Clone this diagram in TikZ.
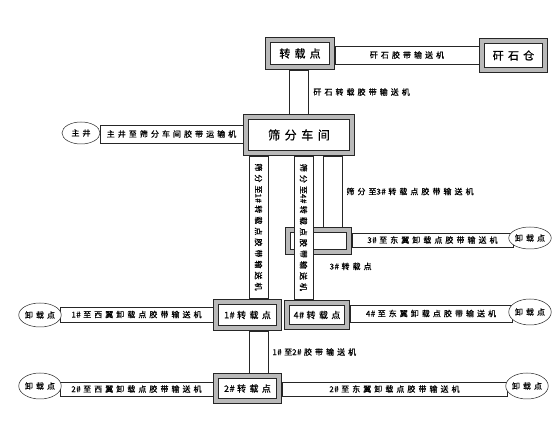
\documentclass[tikz,border=0pt]{standalone}
\usepackage{fontspec}
\setmainfont{Noto Sans CJK SC}[LetterSpace=38, FakeBold=0.6]
\usetikzlibrary{positioning,shapes.geometric}

% number with tight #
\newcommand{\hao}[1]{{\addfontfeature{LetterSpace=5}#1\#}\hspace{2.5pt}}

\begin{document}
\begin{tikzpicture}[
    x=1pt, y=-1pt,
    station/.style={rectangle, draw=black!85, line width=0.7pt, double=gray!55,
                    double distance=4.2pt, fill=white, inner sep=0pt,
                    font=\fontsize{9}{10}\selectfont},
    belt/.style={rectangle, draw=black!85, line width=0.5pt, fill=white,
                 inner sep=0pt, font=\fontsize{8}{9}\selectfont},
    unload/.style={ellipse, draw=black!85, line width=0.5pt, fill=white,
                   inner sep=0pt, font=\fontsize{8}{9}\selectfont},
    lbl/.style={inner sep=0pt, font=\fontsize{8}{9}\selectfont},
]
\useasboundingbox (0,0) rectangle (552,427);

% transfer points and plant
\node[station, minimum width=64.4, minimum height=27.4, font=\fontsize{11}{12}\selectfont] (zzd) at (300,53.5) {转载点};
\node[station, minimum width=63.4, minimum height=29.4, font=\fontsize{11}{12}\selectfont] (gsc) at (513.5,55.5) {矸石仓};
\node[station, minimum width=106.4, minimum height=36.4, font=\fontsize{12}{13}\selectfont] (sf) at (299,135) {筛分车间};
\node[station, minimum width=61.4, minimum height=22.4] (p3) at (318.5,241) {};
\node[station, minimum width=63.4, minimum height=26.4] (p1) at (247.5,315) {\hao{1}转载点};
\node[station, minimum width=60.4, minimum height=24.4] (p4) at (317,315) {\hao{4}转载点};
\node[station, minimum width=63.4, minimum height=25.4] (p2) at (247.5,388.5) {\hao{2}转载点};

% belts
\node[belt, minimum width=144, minimum height=18] (bgs) at (407,55) {矸石胶带输送机};
\node[belt, minimum width=19, minimum height=44] (bzz) at (298.5,92) {};
\node[belt, minimum width=143, minimum height=18] (bzj) at (171.5,134) {主井至筛分车间胶带运输机};
\node[belt, rotate=-90, minimum width=142, minimum height=19] (b1) at (258.5,227) {筛分至\hao{1}转载点胶带输送机};
\node[belt, minimum width=19, minimum height=71] (b3) at (332.5,191.5) {};
\node[belt, rotate=-90, minimum width=143, minimum height=19] (b4) at (303.5,227.5) {筛分至\hao{4}转载点胶带输送机};
\node[belt, minimum width=161, minimum height=14] (b3e) at (432.5,240) {\hao{3}至东翼卸载点胶带输送机};
\node[belt, minimum width=153, minimum height=15] (b1w) at (136.5,314.5) {\hao{1}至西翼卸载点胶带输送机};
\node[belt, minimum width=162, minimum height=17] (b4e) at (431,313.5) {\hao{4}至东翼卸载点胶带输送机};
\node[belt, minimum width=19, minimum height=42] (b12) at (258.5,352) {};
\node[belt, minimum width=153, minimum height=14] (b2w) at (136.5,389) {\hao{2}至西翼卸载点胶带输送机};
\node[belt, minimum width=225, minimum height=14] (b2e) at (394.5,389) {\hao{2}至东翼卸载点胶带输送机};

% ends
\node[unload, minimum width=38, minimum height=22] (zj) at (81,133) {主井};
\node[unload, minimum width=34, minimum height=22] (e3) at (530,238) {卸载点};
\node[unload, minimum width=40, minimum height=24] (w1) at (40,315) {卸载点};
\node[unload, minimum width=36, minimum height=26] (e4) at (530,312) {卸载点};
\node[unload, minimum width=40, minimum height=26] (w2) at (40,386) {卸载点};
\node[unload, minimum width=40, minimum height=26] (e2) at (527,386) {卸载点};

% labels beside belts
\node[lbl, right=5pt of bzz] (lzz) {矸石转载胶带输送机};
\node[lbl, right=4pt of b3] (l3) {筛分至\hao{3}转载点胶带输送机};
\node[lbl, below right=10pt and -20pt of p3] (lp3) {\hao{3}转载点};
\node[lbl, right=4pt of b12] (l12) {\hao{1}至\hao{2}胶带输送机};
\end{tikzpicture}
\end{document}
